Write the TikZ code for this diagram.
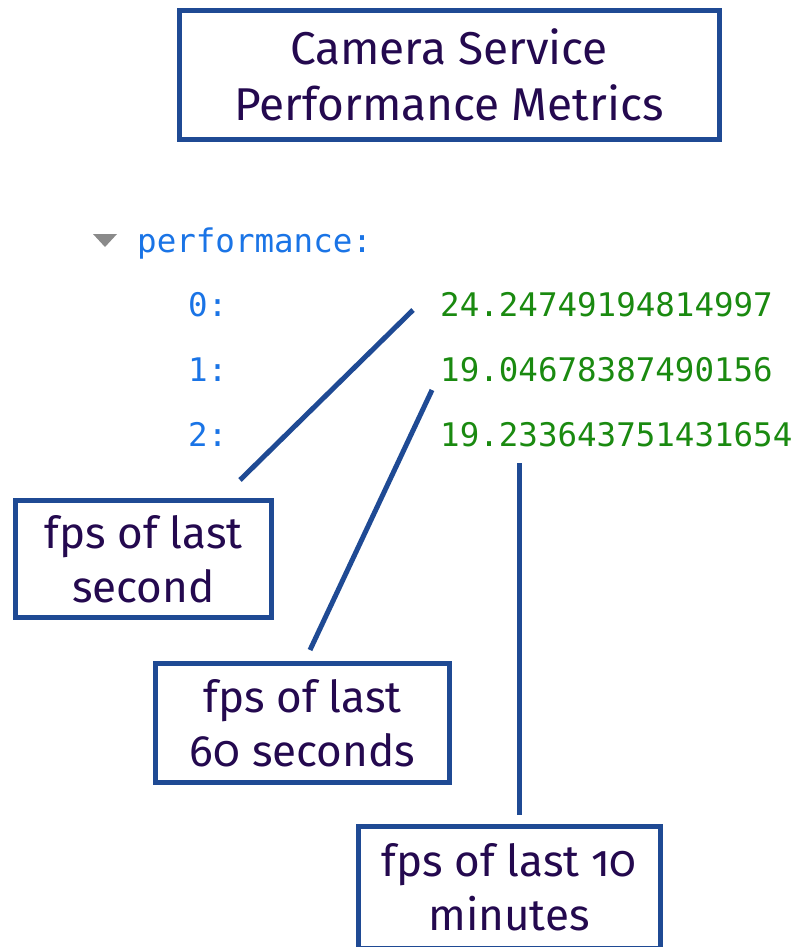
\documentclass[tikz,border=0pt]{standalone}
\usepackage{fontspec}
\setmainfont{Fira Sans}[Numbers=OldStyle]
\newfontfamily\codefont{DejaVu Sans Mono}
\definecolor{boxblue}{HTML}{1F4A94}
\definecolor{inkpurple}{HTML}{24094F}
\definecolor{keyblue}{HTML}{1A74E6}
\definecolor{valgreen}{HTML}{1A8A10}
\definecolor{arrowgray}{HTML}{8A8A8A}
\tikzset{
  labelbox/.style={draw=boxblue, line width=5pt, fill=white, text=inkpurple,
    align=center, inner sep=0pt, font=\fontsize{44}{54}\selectfont},
  pointer/.style={draw=boxblue, line width=5pt},
  key/.style={text=keyblue, font=\codefont\fontsize{32.5}{32.5}\selectfont, inner sep=0pt, anchor=base west},
  val/.style={text=valgreen, font=\codefont\fontsize{32.5}{32.5}\selectfont, inner sep=0pt, anchor=base west},
}
\begin{document}
\begin{tikzpicture}[x=1pt,y=-1pt]
\useasboundingbox (0,0) rectangle (796,947);
\fill[white] (0,0) rectangle (796,947);

% title
\node[labelbox, minimum width=540pt, minimum height=128pt, font=\fontsize{46}{56}\selectfont] (title) at (449,75)
  {Camera Service\\Performance Metrics};

% JSON view
\fill[arrowgray] (93,234) -- (117,234) -- (105,247) -- cycle;
\node[key] (perf) at (137,252) {performance:};
\node[key] (k0) at (188,316) {0:};
\node[key] (k1) at (188,381) {1:};
\node[key] (k2) at (188,446) {2:};
\node[val] (v0) at (440,316) {24.24749194814997};
\node[val] (v1) at (440,381) {19.04678387490156};
\node[val] (v2) at (440,446) {19.233643751431654};

% callouts
\node[labelbox, minimum width=256pt, minimum height=117pt] (b1) at (143.5,559) {fps of last\\second};
\node[labelbox, minimum width=294pt, minimum height=119pt] (b2) at (302.5,723) {fps of last\\60 seconds};
\node[labelbox, minimum width=302pt, minimum height=122pt] (b3) at (509,887) {fps of last 10\\minutes};

\coordinate (p0) at (413,310);
\coordinate (e0) at (240,480);
\coordinate (p1) at (432,390);
\coordinate (e1) at (310,650);
\coordinate (p2) at (519,463);
\coordinate (e2) at (519,815);
\draw[pointer] (p0) -- (e0);
\draw[pointer] (p1) -- (e1);
\draw[pointer] (p2) -- (e2);
\end{tikzpicture}
\end{document}
